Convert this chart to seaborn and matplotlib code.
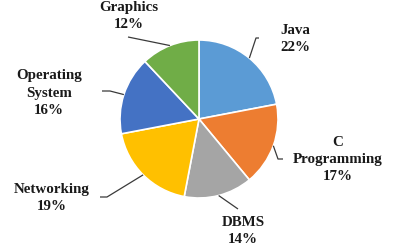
import numpy as np
import matplotlib
matplotlib.use("Agg")
import matplotlib.pyplot as plt
import seaborn as sns

categories = ["Java", "C\nProgramming", "DBMS", "Networking", "Operating\nSystem", "Graphics"]
values = [22, 17, 14, 19, 16, 12]
colors = ["#5B9BD5", "#ED7D31", "#A5A5A5", "#FFC000", "#4472C4", "#70AD47"]

sns.set_theme(style="white")
plt.rcParams["font.family"] = ["Liberation Serif", "DejaVu Serif"]

W, H = 414, 248
fig = plt.figure(figsize=(W / 100, H / 100), dpi=100)
ax = fig.add_axes([0, 0, 1, 1])

cx, cy, r = 199, H - 119, 79
wedges, _ = ax.pie(values, colors=colors, startangle=90, counterclock=False,
                   center=(cx, cy), radius=r,
                   wedgeprops=dict(edgecolor="white", linewidth=1.2))
ax.set_xlim(0, W)
ax.set_ylim(0, H)
ax.set_aspect("equal")
ax.axis("off")

# label layout (pixel coords, y from top): text center, elbow, end of leader
layout = {
    "Java": ((295, 39), (256, 38), (259, 38)),
    "C\nProgramming": ((338, 160), (278, 159), (283, 159)),
    "DBMS": ((243, 231), (238, 209), (238, 209)),
    "Networking": ((52, 198), (107, 197), (100, 197)),
    "Operating\nSystem": ((49, 93), (110, 91), (102, 91)),
    "Graphics": ((129, 16), (128, 37), (128, 37)),
}

for w, cat, v in zip(wedges, categories, values):
    mid = np.deg2rad((w.theta1 + w.theta2) / 2)
    sx, sy = cx + r * np.cos(mid), cy + r * np.sin(mid)
    (tx, ty), (ex, ey), (fx, fy) = layout[cat]
    ax.plot([sx, ex, fx], [sy, H - ey, H - fy], color="#3a3a3a", lw=0.9,
            solid_capstyle="butt")
    ax.text(tx, H - ty, f"{cat}\n{v}%", ha="center", va="center",
            fontsize=10.8, fontweight="bold", color="#1a1a1a", linespacing=1.4)

fig.savefig("out.png", dpi=100)
